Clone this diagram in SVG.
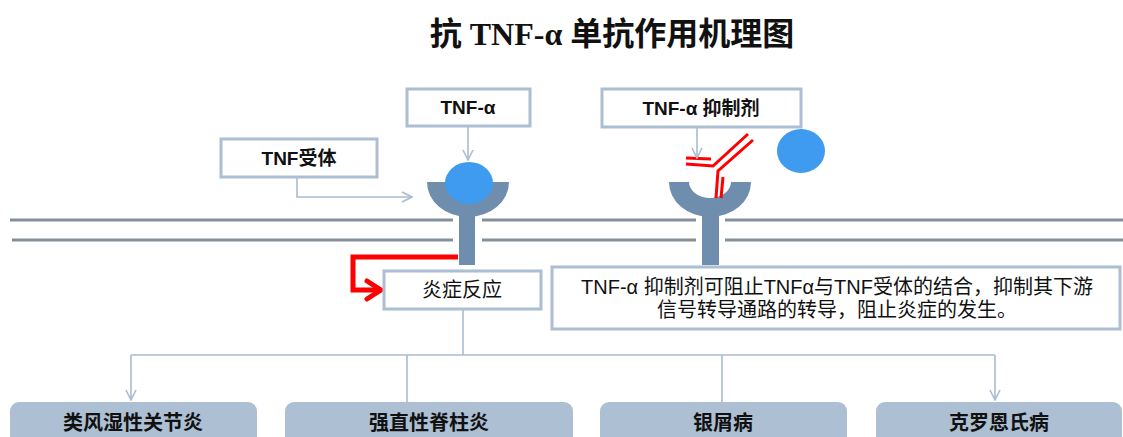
<svg xmlns="http://www.w3.org/2000/svg" width="1123" height="437" viewBox="0 0 1123 437">
<defs>
<style>
.box{fill:#ffffff;stroke:#abbed2;stroke-width:3}
.dis{fill:#adbfd3}
.lbl{font-family:"Liberation Sans","Noto Sans CJK SC",sans-serif;font-weight:bold;font-size:19px;fill:#111;text-anchor:middle}
.txt{font-family:"Liberation Sans","Noto Sans CJK SC",sans-serif;font-size:20px;fill:#111;text-anchor:middle}
.dtxt{font-family:"Liberation Sans","Noto Sans CJK SC",sans-serif;font-weight:bold;font-size:20px;fill:#111;text-anchor:middle}
.conn{fill:none;stroke:#a9bcd0;stroke-width:1.6}
.mem{stroke:#838f9b;stroke-width:3}
.rec{fill:#6f8dad}
.ball{fill:#3e9bef}
.ab{fill:none;stroke:#ff0000;stroke-width:3}
</style>
<marker id="chev" viewBox="0 0 12 12" refX="11" refY="6" markerWidth="12" markerHeight="12" markerUnits="userSpaceOnUse" orient="auto">
<path d="M1,1 L11,6 L1,11" fill="none" stroke="#a9bcd0" stroke-width="1.6"/>
</marker>
<marker id="redchev" viewBox="0 0 20 24" refX="17" refY="12" markerWidth="20" markerHeight="24" markerUnits="userSpaceOnUse" orient="auto">
<path d="M3,3 L17,12 L3,21" fill="none" stroke="#ff0000" stroke-width="5" stroke-linecap="round" stroke-linejoin="round"/>
</marker>
</defs>
<rect width="1123" height="437" fill="#ffffff"/>

<text x="612" y="45" font-family="'Liberation Serif','Noto Sans CJK SC',serif" font-weight="bold" font-size="32" fill="#111" text-anchor="middle">抗 TNF-α 单抗作用机理图</text>

<g id="membrane">
<line class="mem" x1="10" y1="220" x2="1123" y2="220"/>
<line class="mem" x1="12" y1="240" x2="1123" y2="240"/>
<rect x="453" y="214" width="29" height="32" fill="#ffffff"/>
<rect x="696" y="214" width="29" height="32" fill="#ffffff"/>
</g>

<g id="receptor1">
<path class="rec" d="M427,182 A41,35 0 0 0 509,182 L489,182 A21,16 0 0 1 447,182 Z"/>
<rect class="rec" x="459" y="205" width="16" height="60"/>
<ellipse class="ball" cx="469" cy="183" rx="24" ry="21"/>
</g>

<g id="receptor2">
<path class="rec" d="M669,182 A41,35 0 0 0 751,182 L731,182 A21,16 0 0 1 689,182 Z"/>
<rect class="rec" x="702" y="205" width="17" height="60"/>
</g>

<g id="tnf-ball-free">
<ellipse class="ball" cx="801" cy="151" rx="24" ry="22"/>
</g>

<g id="antibody">
<polyline class="ab" points="686,158 711,159"/>
<polyline class="ab" points="686,164 713,166 748,134"/>
<polyline class="ab" points="753,140 718,171 716,198"/>
<polyline class="ab" points="723,177 721,198"/>
</g>

<g id="connectors">
<polyline class="conn" points="297,177 297,197 412,197" marker-end="url(#chev)"/>
<line class="conn" x1="468" y1="126" x2="468" y2="160" marker-end="url(#chev)"/>
<line class="conn" x1="697" y1="127" x2="697" y2="158" marker-end="url(#chev)"/>
<line class="conn" x1="463" y1="309" x2="463" y2="355"/>
<line class="conn" x1="131" y1="355" x2="995" y2="355"/>
<line class="conn" x1="131" y1="355" x2="131" y2="400" marker-end="url(#chev)"/>
<line class="conn" x1="407" y1="355" x2="407" y2="402"/>
<line class="conn" x1="722" y1="355" x2="722" y2="402"/>
<line class="conn" x1="995" y1="355" x2="995" y2="400" marker-end="url(#chev)"/>
<polyline points="458,257 353,257 353,290 381,290" fill="none" stroke="#ff0000" stroke-width="5" marker-end="url(#redchev)"/>
</g>

<g id="tnf-alpha">
<rect class="box" x="407" y="89" width="123" height="37"/>
<text class="lbl" x="468" y="114">TNF-α</text>
</g>

<g id="tnf-receptor">
<rect class="box" x="221" y="139" width="156" height="38"/>
<text class="lbl" x="299" y="165">TNF受体</text>
</g>

<g id="tnf-inhibitor">
<rect class="box" x="602" y="89" width="199" height="38"/>
<text class="lbl" x="701" y="115">TNF-α 抑制剂</text>
</g>

<g id="inflammation">
<rect class="box" x="384" y="271" width="157" height="38"/>
<text class="txt" x="462" y="297">炎症反应</text>
</g>

<g id="explanation">
<rect class="box" x="552" y="267" width="568" height="62"/>
<text class="txt" x="837" y="294" font-size="20.5">TNF-α  抑制剂可阻止TNFα与TNF受体的结合，抑制其下游</text>
<text class="txt" x="837" y="317" font-size="20.5">信号转导通路的转导，阻止炎症的发生。</text>
</g>

<g id="ra">
<rect class="dis" x="10" y="402" width="247" height="50" rx="9"/>
<text class="dtxt" x="133" y="430">类风湿性关节炎</text>
</g>
<g id="as">
<rect class="dis" x="285" y="402" width="288" height="50" rx="9"/>
<text class="dtxt" x="429" y="430">强直性脊柱炎</text>
</g>
<g id="psoriasis">
<rect class="dis" x="600" y="402" width="247" height="50" rx="9"/>
<text class="dtxt" x="723" y="430">银屑病</text>
</g>
<g id="crohn">
<rect class="dis" x="876" y="402" width="246" height="50" rx="9"/>
<text class="dtxt" x="999" y="430">克罗恩氏病</text>
</g>
</svg>
